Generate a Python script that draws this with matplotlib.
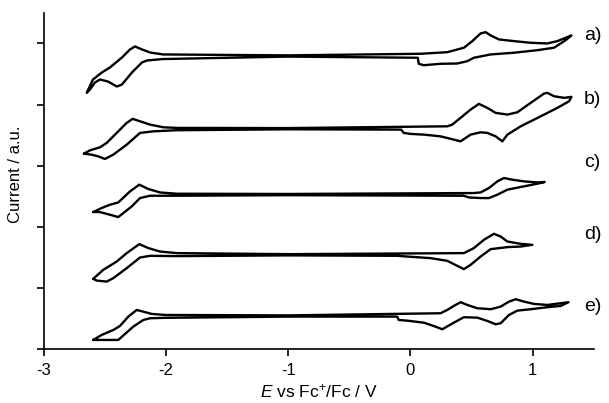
import matplotlib
matplotlib.use('Agg')
import matplotlib.pyplot as plt

plt.rcParams['font.family'] = ['Liberation Sans', 'DejaVu Sans']
plt.rcParams['mathtext.fontset'] = 'custom'
plt.rcParams['mathtext.rm'] = 'Liberation Sans'
plt.rcParams['mathtext.it'] = 'Liberation Sans:italic'

# Cyclic voltammograms, potential in V vs Fc+/Fc, current offset per trace (a.u.)
E_a = [-2.648, -2.598, -2.525, -2.459, -2.361, -2.295, -2.254, -2.197, -2.131, -2.025, -1.0,
       0.082, 0.301, 0.437, 0.506, 0.574, 0.615, 0.656, 0.724, 0.847, 0.984, 1.120, 1.202, 1.270, 1.317,
       1.270, 1.175, 1.039, 0.847, 0.656, 0.519, 0.465, 0.383, 0.246, 0.109, 0.068, 0.060, -1.0,
       -2.025, -2.156, -2.197, -2.279, -2.361, -2.402, -2.475, -2.541, -2.582, -2.623, -2.648]
I_a = [4.197, 4.410, 4.525, 4.607, 4.770, 4.902, 4.951, 4.902, 4.852, 4.820, 4.805,
       4.831, 4.857, 4.930, 5.038, 5.164, 5.185, 5.131, 5.066, 5.038, 5.011, 5.000, 5.038, 5.093, 5.131,
       5.054, 4.930, 4.890, 4.848, 4.820, 4.766, 4.710, 4.672, 4.667, 4.644, 4.667, 4.766, 4.785,
       4.745, 4.721, 4.689, 4.525, 4.328, 4.295, 4.377, 4.410, 4.361, 4.246, 4.197]

E_b = [-2.672, -2.623, -2.541, -2.486, -2.404, -2.322, -2.273, -2.213, -2.131, -2.022, -1.912, -1.0,
       0.301, 0.342, 0.410, 0.492, 0.560, 0.629, 0.697, 0.793, 0.875, 0.984, 1.093, 1.120, 1.175, 1.257, 1.317,
       1.298, 1.202, 1.066, 0.902, 0.793, 0.752, 0.697, 0.629, 0.574, 0.492, 0.410, 0.355, 0.246, 0.109,
       0.0, -0.055, -0.076, -1.0,
       -1.912, -2.104, -2.213, -2.322, -2.432, -2.500, -2.555, -2.609, -2.672]
I_b = [3.197, 3.251, 3.300, 3.372, 3.536, 3.700, 3.766, 3.726, 3.672, 3.628, 3.618, 3.615,
       3.644, 3.672, 3.782, 3.918, 4.011, 3.946, 3.864, 3.836, 3.874, 4.028, 4.180, 4.192, 4.136, 4.110, 4.126,
       4.054, 3.946, 3.808, 3.644, 3.508, 3.398, 3.480, 3.536, 3.546, 3.508, 3.398, 3.426, 3.480, 3.508,
       3.520, 3.536, 3.590, 3.595,
       3.580, 3.562, 3.536, 3.344, 3.180, 3.110, 3.152, 3.180, 3.197]

E_c = [-2.596, -2.527, -2.459, -2.391, -2.295, -2.219, -2.145, -2.049, -1.912, -1.0,
       0.519, 0.574, 0.642, 0.711, 0.765, 0.834, 0.929, 1.039, 1.098,
       1.039, 0.902, 0.793, 0.711, 0.642, 0.574, 0.478, 0.437, -1.0,
       -1.912, -2.131, -2.213, -2.281, -2.391, -2.459, -2.541, -2.596]
I_c = [2.241, 2.307, 2.361, 2.398, 2.579, 2.689, 2.618, 2.562, 2.541, 2.537,
       2.552, 2.562, 2.634, 2.743, 2.798, 2.770, 2.743, 2.726, 2.733,
       2.705, 2.651, 2.607, 2.525, 2.470, 2.470, 2.480, 2.508, 2.517,
       2.508, 2.508, 2.470, 2.333, 2.159, 2.197, 2.241, 2.241]

E_d = [-2.596, -2.514, -2.404, -2.322, -2.219, -2.145, -2.049, -1.912, -1.0,
       0.437, 0.519, 0.601, 0.683, 0.738, 0.793, 0.902, 0.998,
       0.902, 0.793, 0.656, 0.574, 0.492, 0.437, 0.383, 0.301, 0.164, -0.027, -0.109, -1.0,
       -1.912, -2.131, -2.213, -2.322, -2.432, -2.486, -2.568, -2.596]
I_d = [1.148, 1.295, 1.431, 1.569, 1.716, 1.651, 1.595, 1.569, 1.552,
       1.569, 1.651, 1.787, 1.885, 1.841, 1.759, 1.721, 1.705,
       1.677, 1.667, 1.634, 1.513, 1.377, 1.307, 1.361, 1.443, 1.487, 1.513, 1.525, 1.532,
       1.520, 1.525, 1.497, 1.323, 1.159, 1.103, 1.120, 1.148]

E_e = [-2.596, -2.527, -2.432, -2.377, -2.309, -2.240, -2.186, -2.117, -2.008, -1.0,
       0.246, 0.301, 0.355, 0.410, 0.465, 0.547, 0.656, 0.738, 0.806, 0.861, 0.929, 1.011, 1.120, 1.230, 1.293,
       1.230, 1.120, 0.984, 0.875, 0.806, 0.738, 0.697, 0.629, 0.547, 0.437, 0.355, 0.260, 0.205, 0.109,
       -0.027, -0.096, -0.109, -1.0,
       -2.008, -2.131, -2.186, -2.268, -2.336, -2.391, -2.473, -2.555, -2.596]
I_e = [0.148, 0.230, 0.311, 0.377, 0.530, 0.639, 0.611, 0.574, 0.557, 0.550,
       0.585, 0.639, 0.705, 0.766, 0.721, 0.667, 0.651, 0.693, 0.775, 0.815, 0.775, 0.738, 0.721, 0.749, 0.766,
       0.705, 0.684, 0.651, 0.628, 0.557, 0.421, 0.405, 0.459, 0.513, 0.520, 0.431, 0.323, 0.366, 0.431,
       0.464, 0.475, 0.530, 0.530,
       0.510, 0.503, 0.475, 0.366, 0.246, 0.148, 0.148, 0.148, 0.148]

traces = [(E_a, I_a), (E_b, I_b), (E_c, I_c), (E_d, I_d), (E_e, I_e)]
trace_labels = ['a)', 'b)', 'c)', 'd)', 'e)']
label_y = [5.13, 4.08, 3.05, 1.87, 0.69]

fig = plt.figure(figsize=(6.09, 4.03), dpi=100)
ax = fig.add_axes([0.072, 0.134, 0.903, 0.834])

for (E, I) in traces:
    ax.plot(E, I, color='black', lw=1.7, solid_joinstyle='round', solid_capstyle='round')

for lab, y in zip(trace_labels, label_y):
    ax.text(1.42, y, lab, fontsize=14, ha='left', va='center', clip_on=False)

ax.set_xlim(-3, 1.5)
ax.set_ylim(0, 5.5)
ax.set_xticks([-3, -2, -1, 0, 1])
ax.set_xticklabels(['-3', '-2', '-1', '0', '1'])
ax.set_yticks([0, 1, 2, 3, 4, 5])
ax.set_yticklabels([])
ax.tick_params(direction='out', length=5, width=1.2, labelsize=12, pad=5)
for side in ['top', 'right']:
    ax.spines[side].set_visible(False)
for side in ['left', 'bottom']:
    ax.spines[side].set_linewidth(1.2)

ax.set_xlabel(r'$\mathit{E}$ vs Fc$^{+}$/Fc / V', fontsize=12.5, labelpad=3)
ax.set_ylabel('Current / a.u.', fontsize=12)
ax.yaxis.set_label_coords(-0.038, 0.52)

fig.savefig('out.png', dpi=100)
